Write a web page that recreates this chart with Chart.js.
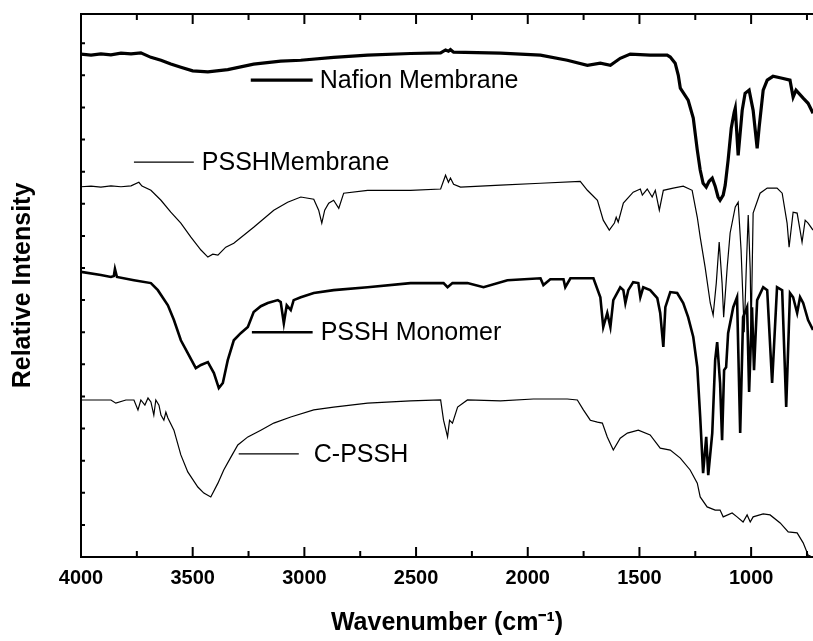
<!DOCTYPE html>
<html>
<head>
<meta charset="UTF-8">
<title>FTIR Spectra</title>
<script src="https://cdn.jsdelivr.net/npm/chart.js"></script>
<style>
  body { margin: 0; background: #fff; }
</style>
</head>
<body>
<canvas id="ftirChart" width="813" height="641"></canvas>
<script>
    // series names (drawn as labels inside the plot)
    const seriesNames = ['Nafion Membrane', 'PSSHMembrane', 'PSSH Monomer', 'C-PSSH'];

    // x axis tick values (wavenumber, cm-1)
    const xTickLabels = [1000, 1500, 2000, 2500, 3000, 3500, 4000];
    const xMinorTicks = [750, 1250, 1750, 2250, 2750, 3250, 3750];
    const yTicks = [1, 2, 3, 4, 5, 6, 7, 8, 9, 10, 11, 12, 13, 14, 15, 16];

    // Nafion Membrane
    const nafionWn = [4000, 3955, 3911, 3866, 3821, 3776, 3732, 3687, 3642, 3598,
        3553, 3500, 3432, 3343, 3227, 3106, 3016, 2869, 2717, 2525,
        2390, 2368, 2355, 2346, 2332, 2122, 1943, 1823, 1733, 1675,
        1630, 1586, 1541, 1452, 1376, 1362, 1340, 1326, 1317, 1282,
        1259, 1241, 1228, 1215, 1201, 1188, 1174, 1161, 1148, 1139,
        1125, 1116, 1103, 1089, 1076, 1071, 1058, 1040, 1027, 1009,
        991, 973, 964, 946, 928, 902, 861, 826, 812, 799,
        767, 745, 723];
    const nafionInt = [15.66, 15.63, 15.67, 15.64, 15.69, 15.67, 15.70, 15.56, 15.47, 15.35,
        15.25, 15.14, 15.11, 15.18, 15.35, 15.44, 15.47, 15.56, 15.63, 15.68,
        15.70, 15.79, 15.75, 15.80, 15.72, 15.69, 15.63, 15.47, 15.31, 15.38,
        15.31, 15.53, 15.66, 15.63, 15.63, 15.57, 15.38, 15.00, 14.60, 14.23,
        13.67, 12.67, 12.05, 11.64, 11.52, 11.70, 11.80, 11.55, 11.21, 11.11,
        11.27, 11.58, 12.36, 13.35, 13.85, 13.98, 12.51, 13.91, 14.44, 14.54,
        13.91, 12.73, 13.39, 14.54, 14.85, 14.97, 14.91, 14.85, 14.32, 14.54,
        14.29, 14.13, 13.82];

    // PSSH membrane
    const psshMemWn = [4000, 3955, 3911, 3866, 3821, 3776, 3741, 3727, 3687, 3642,
        3598, 3553, 3508, 3463, 3432, 3410, 3387, 3352, 3316, 3227,
        3137, 3075, 3016, 2958, 2936, 2922, 2909, 2891, 2869, 2846,
        2824, 2717, 2525, 2390, 2368, 2355, 2346, 2332, 2301, 2122,
        1943, 1765, 1733, 1688, 1662, 1635, 1612, 1604, 1595, 1572,
        1528, 1496, 1487, 1465, 1443, 1429, 1411, 1393, 1349, 1304,
        1264, 1241, 1228, 1206, 1183, 1170, 1156, 1143, 1130, 1123,
        1107, 1094, 1071, 1058, 1045, 1031, 1022, 1013, 1004, 1000,
        991, 960, 928, 884, 861, 839, 830, 812, 794, 781,
        772, 758, 745, 723];
    const psshMemInt = [11.53, 11.55, 11.52, 11.56, 11.53, 11.56, 11.67, 11.55, 11.42, 11.11,
        10.74, 10.40, 9.96, 9.56, 9.34, 9.43, 9.40, 9.65, 9.77, 10.27,
        10.80, 11.05, 11.21, 11.14, 10.80, 10.40, 10.80, 11.02, 11.11, 10.86,
        11.33, 11.42, 11.42, 11.46, 11.89, 11.67, 11.80, 11.61, 11.52, 11.58,
        11.64, 11.70, 11.42, 11.11, 10.49, 10.18, 10.40, 10.58, 10.43, 11.02,
        11.36, 11.46, 11.27, 11.46, 11.21, 11.42, 10.80, 11.42, 11.49, 11.55,
        11.42, 10.58, 9.96, 9.03, 7.91, 7.53, 8.53, 9.81, 8.53, 7.47,
        9.03, 10.09, 10.90, 11.05, 9.56, 7.00, 8.93, 10.65, 8.93, 7.00,
        10.71, 11.33, 11.49, 11.49, 11.33, 10.40, 9.65, 10.74, 10.71, 10.18,
        9.81, 10.49, 10.40, 10.18];

    // PSSH monomer
    const monomerWn = [4000, 3911, 3866, 3853, 3848, 3839, 3763, 3687, 3656, 3611,
        3584, 3553, 3522, 3486, 3463, 3432, 3405, 3383, 3365, 3343,
        3316, 3285, 3253, 3227, 3195, 3164, 3119, 3106, 3092, 3079,
        3061, 3048, 3016, 2958, 2869, 2717, 2525, 2377, 2359, 2337,
        2270, 2198, 2091, 1943, 1930, 1899, 1840, 1832, 1809, 1706,
        1675, 1662, 1644, 1630, 1617, 1586, 1572, 1563, 1550, 1528,
        1505, 1496, 1483, 1452, 1420, 1407, 1393, 1384, 1362, 1331,
        1304, 1282, 1259, 1241, 1228, 1215, 1201, 1192, 1174, 1161,
        1152, 1139, 1130, 1121, 1112, 1103, 1080, 1063, 1049, 1036,
        1018, 1009, 996, 987, 973, 946, 928, 906, 884, 861,
        843, 826, 812, 794, 781, 767, 745, 723];
    const monomerInt = [8.88, 8.78, 8.72, 8.75, 8.97, 8.72, 8.62, 8.53, 8.31, 7.84,
        7.38, 6.75, 6.35, 5.88, 5.98, 6.07, 5.73, 5.26, 5.42, 6.13,
        6.75, 6.97, 7.16, 7.63, 7.81, 7.91, 8.00, 7.94, 7.28, 7.84,
        7.69, 8.00, 8.09, 8.22, 8.31, 8.40, 8.53, 8.53, 8.40, 8.53,
        8.53, 8.40, 8.62, 8.68, 8.47, 8.65, 8.65, 8.40, 8.68, 8.68,
        8.09, 7.16, 7.60, 7.16, 8.00, 8.40, 8.31, 7.91, 8.31, 8.56,
        8.53, 8.09, 8.40, 8.31, 8.06, 7.60, 6.54, 7.78, 8.25, 8.22,
        7.91, 7.47, 6.85, 5.91, 4.36, 2.61, 3.74, 2.55, 3.86, 6.13,
        6.69, 5.42, 3.64, 5.82, 5.91, 6.97, 7.78, 8.09, 3.86, 7.47,
        7.78, 5.14, 7.78, 5.82, 8.00, 8.40, 8.31, 5.42, 8.40, 8.31,
        4.67, 8.22, 8.09, 7.60, 8.09, 7.91, 7.38, 7.07];

    // C-PSSH
    const cpsshWn = [4000, 3866, 3844, 3799, 3763, 3745, 3732, 3714, 3700, 3687,
        3674, 3665, 3651, 3642, 3629, 3620, 3611, 3584, 3553, 3522,
        3477, 3450, 3419, 3387, 3361, 3329, 3298, 3253, 3195, 3137,
        3061, 2958, 2869, 2717, 2525, 2390, 2377, 2359, 2350, 2337,
        2314, 2270, 2122, 1975, 1823, 1778, 1751, 1720, 1688, 1666,
        1644, 1617, 1586, 1554, 1505, 1452, 1407, 1362, 1317, 1273,
        1241, 1228, 1197, 1161, 1139, 1125, 1085, 1063, 1036, 1018,
        1004, 991, 946, 915, 870, 834, 794, 767, 745, 727];
    const cpsshInt = [4.89, 4.89, 4.79, 4.89, 4.89, 4.58, 4.89, 4.73, 4.95, 4.83,
        4.42, 4.89, 4.73, 4.42, 4.26, 4.51, 4.33, 3.95, 3.18, 2.65,
        2.18, 1.99, 1.87, 2.30, 2.71, 3.11, 3.49, 3.74, 3.95, 4.17,
        4.36, 4.58, 4.67, 4.79, 4.86, 4.89, 4.26, 3.74, 4.26, 4.17,
        4.67, 4.89, 4.86, 4.92, 4.92, 4.89, 4.58, 4.26, 4.20, 4.17,
        3.74, 3.33, 3.70, 3.86, 3.95, 3.80, 3.39, 3.33, 3.08, 2.71,
        2.30, 1.87, 1.56, 1.46, 1.46, 1.25, 1.37, 1.25, 1.09, 1.31,
        1.09, 1.25, 1.34, 1.31, 1.06, 0.78, 0.75, 0.44, 0.06, 0.00];

    // where each in-plot label sits: [line start, line end, text start] in cm-1, and intensity
    const labelSpots = [
        [3240, 2963, 2931, 14.85],
        [3763, 3495, 3459, 12.30],
        [3235, 2963, 2927, 7.00],
        [3294, 3025, 2958, 3.21]
    ];

    const seriesWn = [nafionWn, psshMemWn, monomerWn, cpsshWn];
    const seriesInt = [nafionInt, psshMemInt, monomerInt, cpsshInt];
    const lineWidths = [3.2, 1.2, 2.6, 1.2];

    const FONT = 'Arial, "Liberation Sans", Helvetica, sans-serif';
    Chart.defaults.font.family = FONT;
    Chart.defaults.color = '#000';

    // inward tick marks on the frame, plus the in-plot series labels
    const frameTicks = {
        id: 'frameTicks',
        afterDraw(chart) {
            const {ctx, chartArea, scales} = chart;
            const xs = scales.x, ys = scales.y;
            ctx.save();
            ctx.strokeStyle = '#000';
            ctx.lineWidth = 2;
            ctx.beginPath();
            const all = xTickLabels.map(v => [v, 10]).concat(xMinorTicks.map(v => [v, 6]));
            all.forEach(([v, len]) => {
                if (v < xs.min || v > xs.max) return;
                const px = xs.getPixelForValue(v);
                ctx.moveTo(px, chartArea.bottom);
                ctx.lineTo(px, chartArea.bottom - len);
                ctx.moveTo(px, chartArea.top);
                ctx.lineTo(px, chartArea.top + len);
            });
            yTicks.forEach(v => {
                const py = ys.getPixelForValue(v);
                ctx.moveTo(chartArea.left, py);
                ctx.lineTo(chartArea.left + 4, py);
            });
            ctx.stroke();

            ctx.font = '25px ' + FONT;
            ctx.fillStyle = '#000';
            ctx.textBaseline = 'middle';
            ctx.textAlign = 'left';
            labelSpots.forEach((s, i) => {
                const y = ys.getPixelForValue(s[3]);
                ctx.lineWidth = lineWidths[i];
                ctx.beginPath();
                ctx.moveTo(xs.getPixelForValue(s[0]), y);
                ctx.lineTo(xs.getPixelForValue(s[1]), y);
                ctx.stroke();
                ctx.fillText(seriesNames[i], xs.getPixelForValue(s[2]), y + 1);
            });
            ctx.restore();
        }
    };

    const ctx = document.getElementById('ftirChart').getContext('2d');
    new Chart(ctx, {
        type: 'line',
        data: {
            datasets: seriesNames.map((name, i) => ({
                label: name,
                data: seriesWn[i].map((w, j) => ({x: w, y: seriesInt[i][j]})),
                borderColor: '#000',
                borderWidth: lineWidths[i],
                pointRadius: 0,
                tension: 0,
                fill: false
            }))
        },
        options: {
            responsive: false,
            animation: false,
            layout: { padding: 0 },
            plugins: {
                legend: { display: false },
                tooltip: { enabled: false }
            },
            scales: {
                x: {
                    type: 'linear',
                    position: 'bottom',
                    reverse: true,
                    min: 723,
                    max: 4000,
                    grid: { display: false, drawTicks: false },
                    border: { display: true, color: '#000', width: 2 },
                    afterBuildTicks: s => { s.ticks = xTickLabels.map(v => ({value: v})); },
                    afterFit: s => { s.height = 84; },
                    ticks: {
                        padding: 9,
                        maxRotation: 0,
                        autoSkip: false,
                        color: '#000',
                        font: { size: 20, weight: 'bold' },
                        callback: v => String(v)
                    },
                    title: {
                        display: true,
                        text: 'Wavenumber (cm\u207B\u00B9)',
                        color: '#000',
                        font: { size: 25, weight: 'bold' },
                        padding: { top: 0, bottom: 3 }
                    }
                },
                x2: {
                    type: 'linear',
                    position: 'top',
                    reverse: true,
                    min: 723,
                    max: 4000,
                    grid: { display: false, drawTicks: false },
                    border: { display: true, color: '#000', width: 2 },
                    ticks: { display: false },
                    afterFit: s => { s.height = 14; }
                },
                y: {
                    type: 'linear',
                    position: 'left',
                    min: 0,
                    max: 16.91,
                    grid: { display: false, drawTicks: false },
                    border: { display: true, color: '#000', width: 2 },
                    ticks: { display: false },
                    afterFit: s => { s.width = 81; },
                    title: {
                        display: true,
                        text: 'Relative Intensity',
                        color: '#000',
                        font: { size: 25, weight: 'bold' },
                        padding: { top: 8, bottom: 0 }
                    }
                }
            }
        },
        plugins: [frameTicks]
    });
</script>
</body>
</html>
